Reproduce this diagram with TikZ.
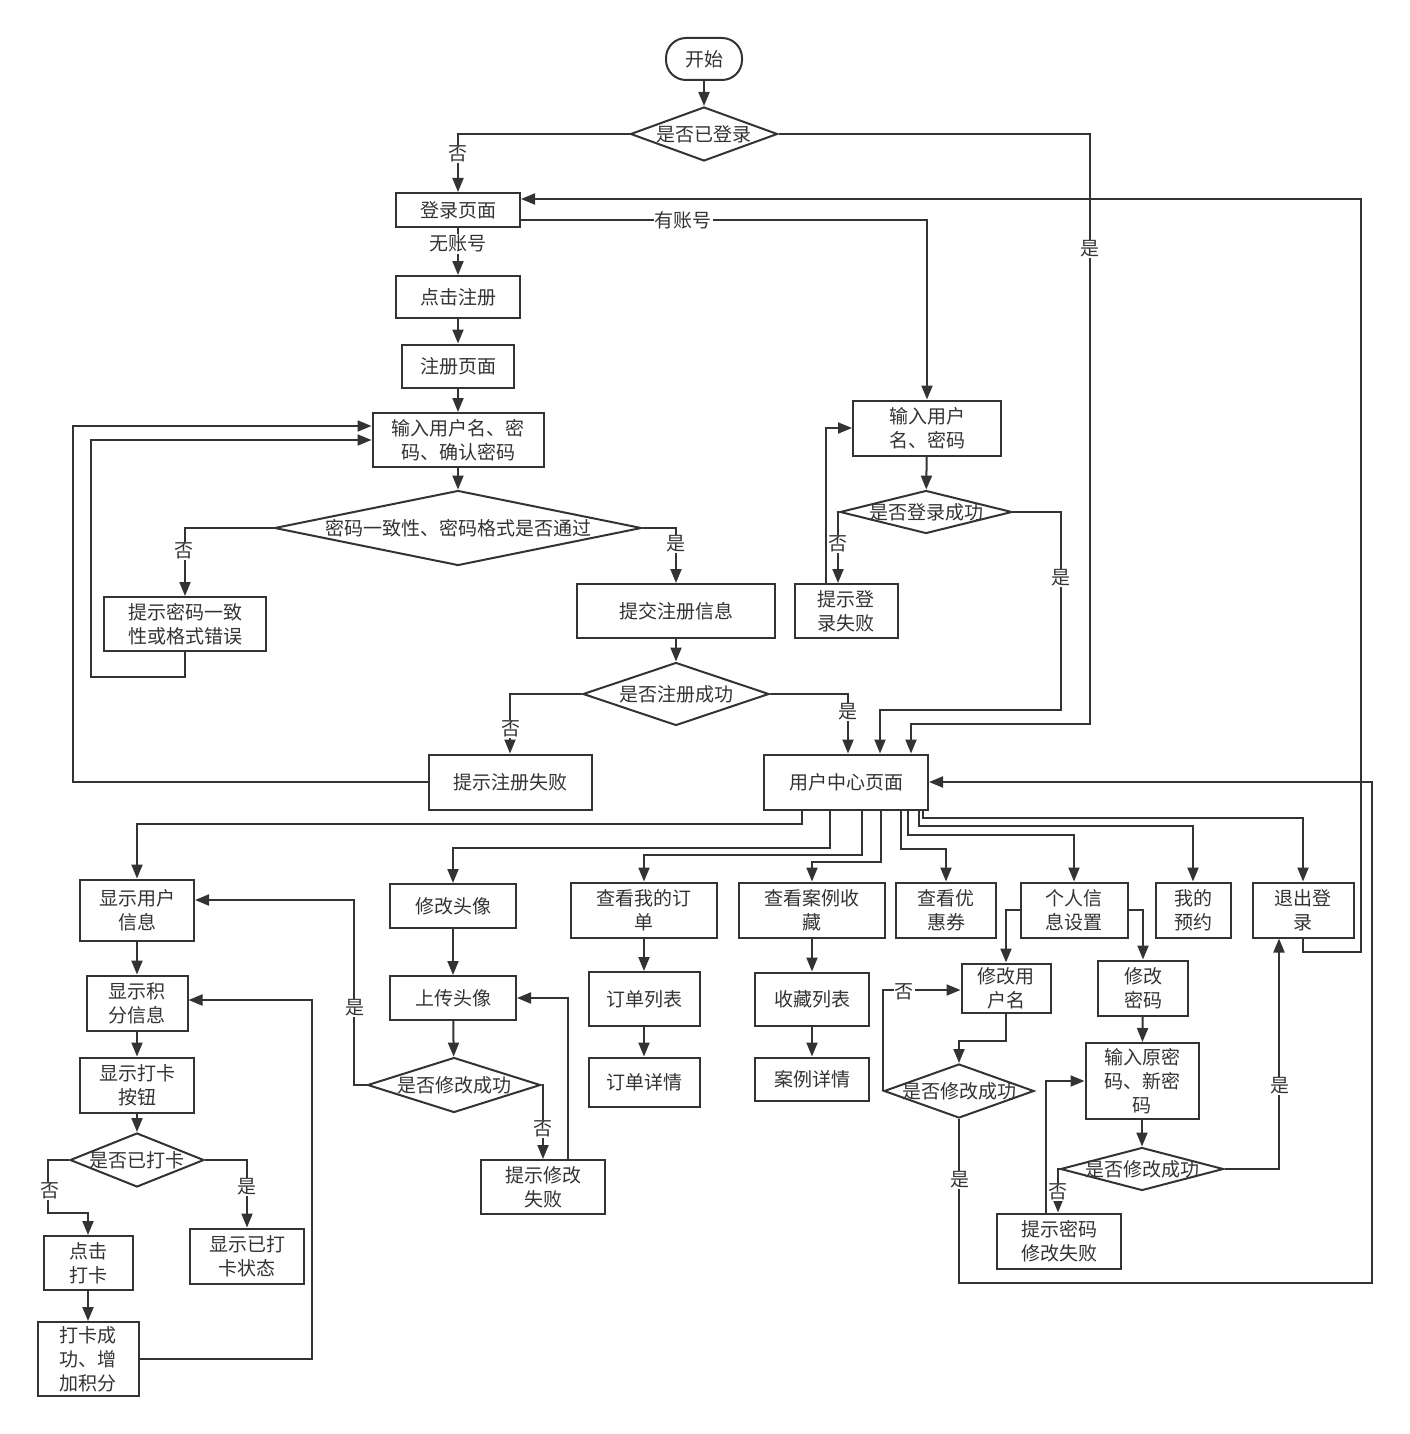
\documentclass[tikz,border=0pt]{standalone}
\usepackage{fontspec}
\newfontfamily\zh{Noto Sans CJK SC}
\usetikzlibrary{shapes.geometric,arrows.meta,calc}
\definecolor{lc}{HTML}{333333}
\begin{document}
\begin{tikzpicture}[x=1pt,y=-1pt,
  every node/.style={font=\zh\fontsize{19}{24}\selectfont, text=lc},
  box/.style={draw=lc, line width=2pt, fill=white, align=center, inner sep=0pt},
  dia/.style={diamond, draw=lc, line width=2pt, fill=white, inner sep=0pt},
  arr/.style={draw=lc, line width=2pt, -{Triangle[length=14pt,width=11pt]}},
  lbl/.style={fill=white, inner sep=1pt},
]
\fill[white] (0,0) rectangle (1409,1434);
\useasboundingbox (0,0) rectangle (1409,1434);

% ---------- nodes ----------
\node[box, rounded corners=20pt, minimum width=76pt, minimum height=42pt] (start) at (704,59) {开始};
\node[dia, minimum width=147pt, minimum height=54pt, label=center:是否已登录] (d1) at (704,134) {};
\node[box, minimum width=124pt, minimum height=34pt] (login) at (458,210) {登录页面};
\node[box, minimum width=124pt, minimum height=42pt] (clickreg) at (458,297) {点击注册};
\node[box, minimum width=112pt, minimum height=43pt] (regpage) at (458,366) {注册页面};
\node[box, minimum width=171pt, minimum height=54pt] (reginput) at (458,440) {输入用户名、密\\码、确认密码};
\node[dia, minimum width=367pt, minimum height=75pt, label=center:密码一致性、密码格式是否通过] (d2) at (458,528) {};
\node[box, minimum width=162pt, minimum height=54pt] (pwerr) at (185,624) {提示密码一致\\性或格式错误};
\node[box, minimum width=198pt, minimum height=54pt] (submit) at (676,611) {提交注册信息};
\node[dia, minimum width=186pt, minimum height=63pt, label=center:是否注册成功] (d3) at (676,694) {};
\node[box, minimum width=163pt, minimum height=55pt] (regfail) at (510,782) {提示注册失败};
\node[box, minimum width=164pt, minimum height=55pt] (uc) at (846,782) {用户中心页面};
\node[box, minimum width=148pt, minimum height=55pt] (loginput) at (927,428) {输入用户\\名、密码};
\node[dia, minimum width=172pt, minimum height=43pt, label=center:是否登录成功] (d4) at (926,512) {};
\node[box, minimum width=103pt, minimum height=54pt] (logfail) at (846,611) {提示登\\录失败};

\node[box, minimum width=114pt, minimum height=61pt] (showinfo) at (137,910) {显示用户\\信息};
\node[box, minimum width=126pt, minimum height=44pt] (avatar) at (453,906) {修改头像};
\node[box, minimum width=146pt, minimum height=55pt] (orders) at (644,910) {查看我的订\\单};
\node[box, minimum width=146pt, minimum height=55pt] (favs) at (812,910) {查看案例收\\藏};
\node[box, minimum width=100pt, minimum height=55pt] (coupon) at (946,910) {查看优\\惠券};
\node[box, minimum width=107pt, minimum height=55pt] (pset) at (1074,910) {个人信\\息设置};
\node[box, minimum width=75pt, minimum height=55pt] (appt) at (1193,910) {我的\\预约};
\node[box, minimum width=101pt, minimum height=55pt] (logout) at (1303,910) {退出登\\录};

\node[box, minimum width=101pt, minimum height=55pt] (points) at (137,1003) {显示积\\分信息};
\node[box, minimum width=114pt, minimum height=55pt] (ckbtn) at (137,1085) {显示打卡\\按钮};
\node[dia, minimum width=134pt, minimum height=54pt, label=center:是否已打卡] (d5) at (137,1160) {};
\node[box, minimum width=89pt, minimum height=54pt] (clickck) at (88,1263) {点击\\打卡};
\node[box, minimum width=114pt, minimum height=55pt] (checked) at (247,1256) {显示已打\\卡状态};
\node[box, minimum width=101pt, minimum height=74pt] (cksucc) at (88,1359) {打卡成\\功、增\\加积分};

\node[box, minimum width=126pt, minimum height=44pt] (upload) at (453,998) {上传头像};
\node[dia, minimum width=173pt, minimum height=55pt, label=center:是否修改成功] (d6) at (454,1085) {};
\node[box, minimum width=124pt, minimum height=54pt] (avfail) at (543,1187) {提示修改\\失败};

\node[box, minimum width=111pt, minimum height=54pt] (olist) at (644,999) {订单列表};
\node[box, minimum width=111pt, minimum height=49pt] (odetail) at (644,1082) {订单详情};
\node[box, minimum width=114pt, minimum height=53pt] (flist) at (812,999) {收藏列表};
\node[box, minimum width=114pt, minimum height=43pt] (fdetail) at (812,1079) {案例详情};

\node[box, minimum width=89pt, minimum height=49pt] (uname) at (1006,988) {修改用\\户名};
\node[dia, minimum width=150pt, minimum height=54pt, label=center:是否修改成功] (d7) at (959,1091) {};
\node[box, minimum width=90pt, minimum height=55pt] (pw) at (1143,988) {修改\\密码};
\node[box, minimum width=113pt, minimum height=76pt] (pwinput) at (1142,1081) {输入原密\\码、新密\\码};
\node[dia, minimum width=163pt, minimum height=43pt, label=center:是否修改成功] (d8) at (1142,1169) {};
\node[box, minimum width=124pt, minimum height=55pt] (pwfail) at (1059,1241) {提示密码\\修改失败};

% ---------- connectors ----------
\draw[arr] (start) -- (d1);
\draw[arr] (d1.west) -| (login.north);
\draw[arr] (d1.east) -| (1090,724) -| ($(uc.north)+(65,0)$);
\draw[arr] (login) -- (clickreg);
\draw[arr] ($(login.east)+(0,10)$) -| (loginput.north);
\draw[arr] (clickreg) -- (regpage);
\draw[arr] (regpage) -- (reginput);
\draw[arr] (reginput) -- (d2);
\draw[arr] (d2.west) -| (pwerr.north);
\draw[arr] (pwerr.south) |- (91,677) |- (reginput.west);
\draw[arr] (regfail.west) -| (73,426) -- ($(reginput.west)+(0,-14)$);
\draw[arr] (d2.east) -| (submit.north);
\draw[arr] (submit) -- (d3);
\draw[arr] (d3.west) -| (regfail.north);
\draw[arr] (d3.east) -| ($(uc.north)+(2,0)$);
\draw[arr] (loginput) -- (d4);
\draw[arr] (d4.west) -| ($(logfail.north)+(-8,0)$);
\draw[arr] ($(logfail.north)+(-20,0)$) |- (loginput.west);
\draw[arr] (d4.east) -| (1061,710) -| ($(uc.north)+(34,0)$);
\draw[arr] (logout.south) |- (1361,952) |- ($(login.east)+(0,-11)$);

\draw[arr] ($(uc.south)+(-44,0)$) -- ++(0,13) -| (showinfo.north);
\draw[arr] ($(uc.south)+(-16,0)$) -- ++(0,37) -| (avatar.north);
\draw[arr] ($(uc.south)+(16,0)$) -- ++(0,44) -| (orders.north);
\draw[arr] ($(uc.south)+(35,0)$) -- ++(0,51) -| (favs.north);
\draw[arr] ($(uc.south)+(55,0)$) -- ++(0,38) -| (coupon.north);
\draw[arr] ($(uc.south)+(62,0)$) -- ++(0,24) -| (pset.north);
\draw[arr] ($(uc.south)+(73,0)$) -- ++(0,15) -| (appt.north);
\draw[arr] ($(uc.south)+(77,0)$) -- ++(0,7) -| (logout.north);

\draw[arr] (showinfo) -- (points);
\draw[arr] (points) -- (ckbtn);
\draw[arr] (ckbtn) -- (d5);
\draw[arr] (d5.west) -| (48,1213) -| (clickck.north);
\draw[arr] (d5.east) -| (checked.north);
\draw[arr] (clickck) -- (cksucc);
\draw[arr] (cksucc.east) -| (312,1000) -- ($(points.east)+(0,-3)$);

\draw[arr] (avatar) -- (upload);
\draw[arr] (upload) -- (d6);
\draw[arr] (d6.west) -| (354,900) -- ($(showinfo.east)+(0,-10)$);
\draw[arr] (d6.east) -| (avfail.north);
\draw[arr] ($(avfail.north)+(25,0)$) |- (upload.east);

\draw[arr] (orders) -- (olist);
\draw[arr] (olist) -- (odetail);
\draw[arr] (favs) -- (flist);
\draw[arr] (flist) -- (fdetail);

\draw[arr] (pset.west) -| (uname.north);
\draw[arr] (pset.east) -| (pw.north);
\draw[arr] (uname.south) -- ++(0,27) -| (d7.north);
\draw[arr] (d7.west) |- ($(uname.west)+(0,2)$);
\draw[arr] (d7.south) |- (1372,1283) |- (uc.east);
\draw[arr] (pw) -- (pwinput);
\draw[arr] (pwinput) -- (d8);
\draw[arr] (d8.west) -| ($(pwfail.north)+(-1,0)$);
\draw[arr] ($(pwfail.north)+(-13,0)$) |- (pwinput.west);
\draw[arr] (d8.east) -| ($(logout.south)+(-24,0)$);

% ---------- connector labels ----------
\node[lbl] at (458,154) {否};
\node[lbl] at (1090,249) {是};
\node[lbl] at (458,244) {无账号};
\node[lbl] at (683,220) {有账号};
\node[lbl] at (184,551) {否};
\node[lbl] at (676,544) {是};
\node[lbl] at (511,729) {否};
\node[lbl] at (848,712) {是};
\node[lbl] at (838,544) {否};
\node[lbl] at (1061,578) {是};
\node[lbl] at (50,1191) {否};
\node[lbl] at (247,1187) {是};
\node[lbl] at (355,1008) {是};
\node[lbl] at (543,1129) {否};
\node[lbl] at (904,992) {否};
\node[lbl] at (960,1180) {是};
\node[lbl] at (1058,1192) {否};
\node[lbl] at (1280,1086) {是};
\end{tikzpicture}
\end{document}
